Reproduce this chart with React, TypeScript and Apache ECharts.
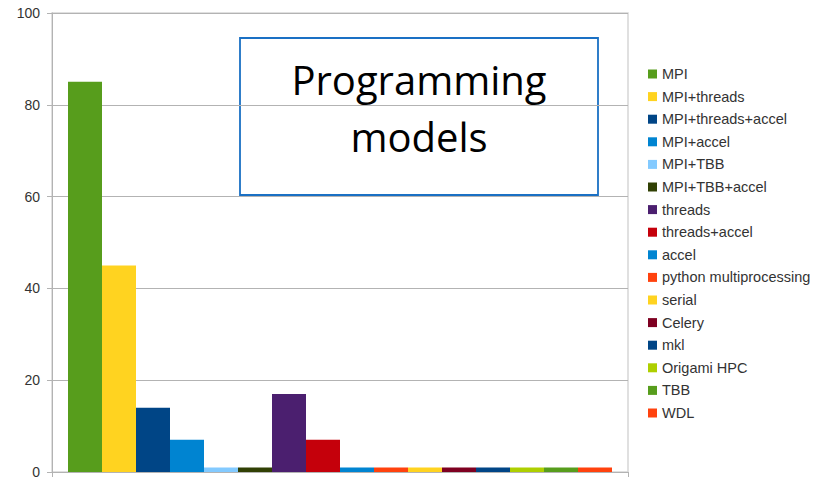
import React, { useEffect, useRef } from "react";
import * as echarts from "echarts";

// Number of projects using each programming model
const modelNames: string[] = [
  "MPI",
  "MPI+threads",
  "MPI+threads+accel",
  "MPI+accel",
  "MPI+TBB",
  "MPI+TBB+accel",
  "threads",
  "threads+accel",
  "accel",
  "python multiprocessing",
  "serial",
  "Celery",
  "mkl",
  "Origami HPC",
  "TBB",
  "WDL",
];
const modelCounts: number[] = [85, 45, 14, 7, 1, 1, 17, 7, 1, 1, 1, 1, 1, 1, 1, 1];
const modelColors: string[] = [
  "#579d1c",
  "#ffd320",
  "#004586",
  "#0084d1",
  "#83caff",
  "#314004",
  "#4b1f6f",
  "#c5000b",
  "#0084d1",
  "#ff420e",
  "#ffd320",
  "#7e0021",
  "#004586",
  "#aecf00",
  "#579d1c",
  "#ff420e",
];
const categories: string[] = [""];
const titleText = "Programming\nmodels";

const LABEL_FONT = "'Liberation Sans', Arial, sans-serif";

export default function App() {
  const ref = useRef<HTMLDivElement>(null);

  useEffect(() => {
    if (!ref.current) return;
    const chart = echarts.init(ref.current, undefined, { renderer: "svg" });

    const series = modelNames.map((name, i) => ({
      name,
      type: "bar" as const,
      data: [modelCounts[i]],
      barWidth: 34,
      barGap: "0%",
      itemStyle: { color: modelColors[i] },
    }));

    chart.setOption({
      animation: false,
      backgroundColor: "#ffffff",
      grid: {
        left: 52,
        right: 185,
        top: 13,
        bottom: 6,
        show: true,
        borderColor: "#d6d6d6",
        borderWidth: 1.5,
      },
      legend: {
        orient: "vertical",
        left: 648,
        top: 66,
        padding: 0,
        icon: "rect",
        itemWidth: 9,
        itemHeight: 9,
        itemGap: 6.6,
        textStyle: {
          fontFamily: LABEL_FONT,
          fontSize: 14.5,
          lineHeight: 16,
          color: "#333333",
        },
        data: modelNames,
      },
      xAxis: {
        type: "category",
        data: categories,
        axisLine: { lineStyle: { color: "#b3b3b3" } },
        axisTick: { show: true, length: 5, lineStyle: { color: "#b3b3b3" } },
        axisLabel: { show: false },
      },
      yAxis: {
        type: "value",
        min: 0,
        max: 100,
        interval: 20,
        axisLine: { show: true, lineStyle: { color: "#b3b3b3" } },
        axisTick: { show: true, length: 5, lineStyle: { color: "#b3b3b3" } },
        axisLabel: {
          fontFamily: LABEL_FONT,
          fontSize: 14,
          color: "#333333",
          margin: 12,
        },
        splitLine: { lineStyle: { color: "#b3b3b3" } },
      },
      graphic: [
        {
          type: "group",
          z: 100,
          children: [
            {
              type: "rect",
              shape: { x: 240, y: 38, width: 358, height: 157 },
              style: { fill: "#ffffff", stroke: "#1a70c4", lineWidth: 1.8 },
            },
            {
              type: "text",
              x: 419,
              y: 108,
              style: {
                text: titleText,
                font: "40px 'Open Sans', 'Noto Sans', sans-serif",
                fill: "#000000",
                align: "center",
                verticalAlign: "middle",
                lineHeight: 57,
              },
            },
          ],
        },
      ],
      series,
    });

    return () => chart.dispose();
  }, []);

  return (
    <div
      ref={ref}
      style={{ position: "fixed", left: 0, top: 0, width: 813, height: 479 }}
    />
  );
}
